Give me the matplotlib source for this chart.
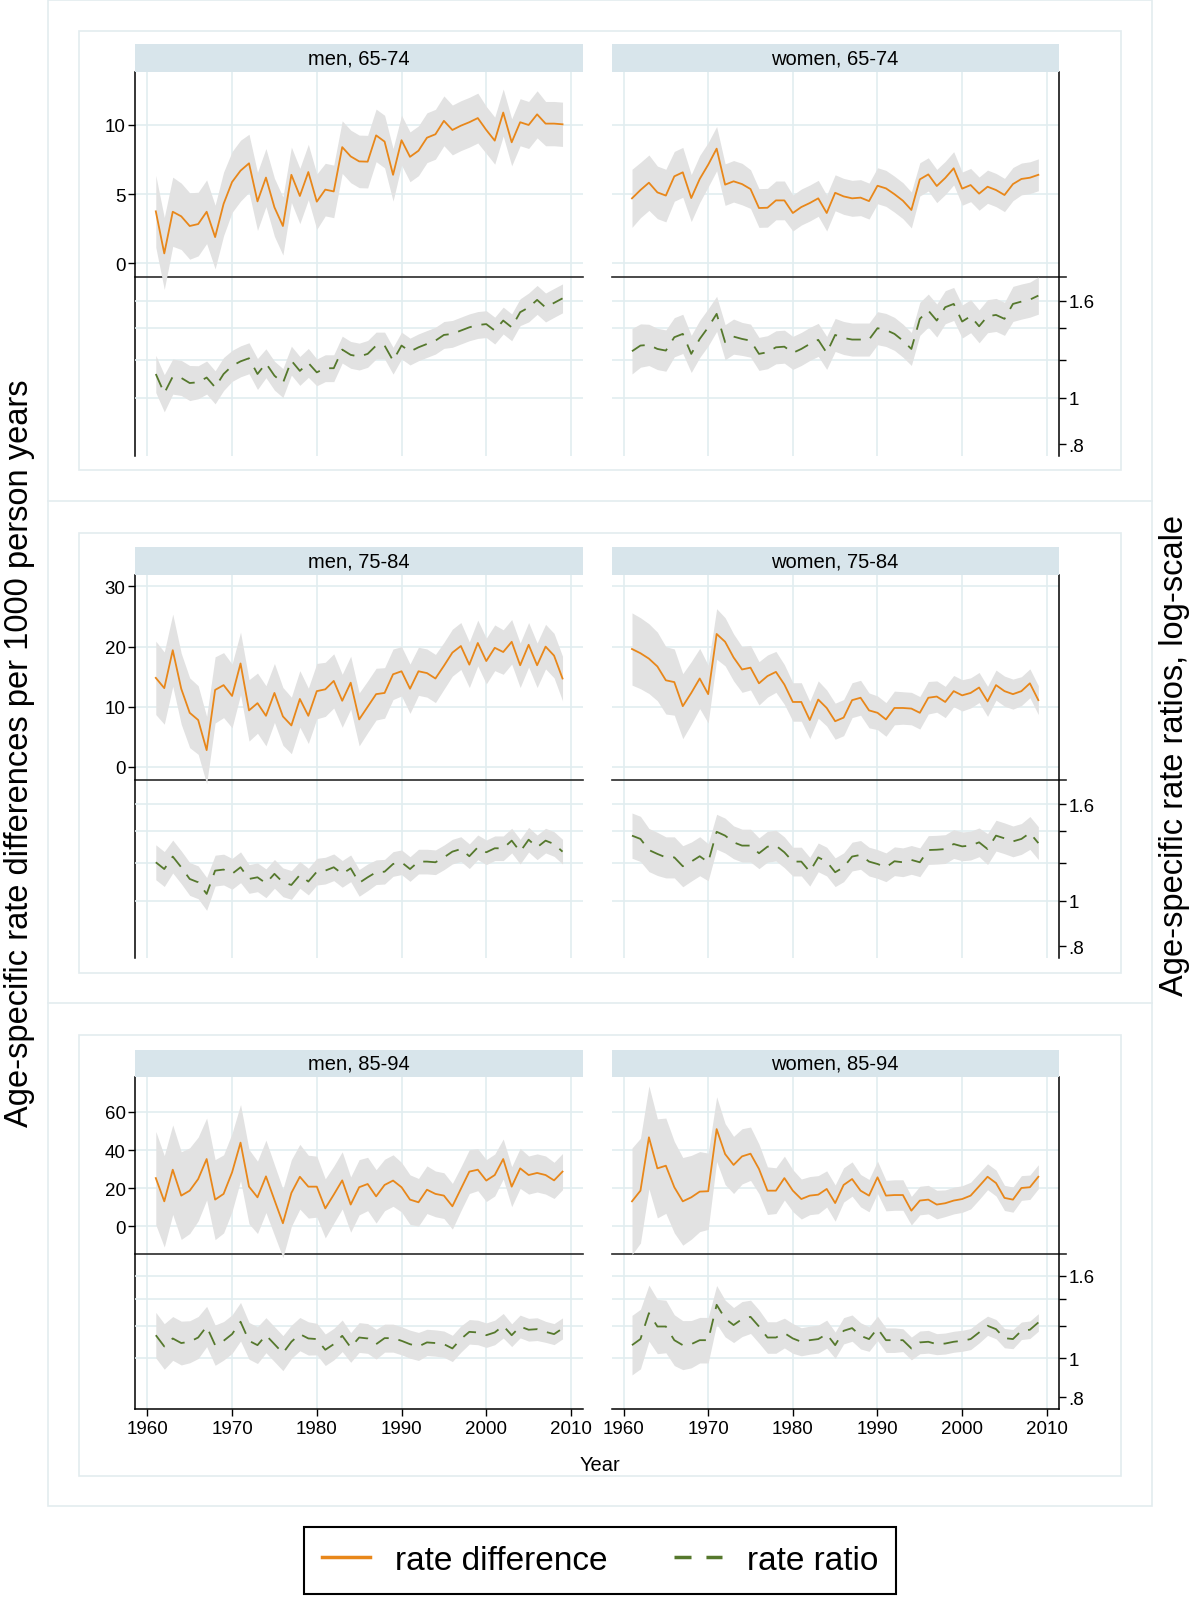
import numpy as np
import matplotlib
matplotlib.use("Agg")
import matplotlib.pyplot as plt
from matplotlib.patches import Rectangle
from matplotlib.lines import Line2D
from matplotlib.ticker import NullLocator, NullFormatter

plt.rcParams['font.family'] = ['Liberation Sans', 'DejaVu Sans']

years = list(range(1961, 2010))

# rate differences per 1000 person years and CI half-widths
men_6574_rd = [3.76, 0.72, 3.73, 3.40, 2.70, 2.84, 3.73, 1.90, 4.30, 5.88,
               6.70, 7.23, 4.48, 6.20, 4.05, 2.70, 6.40, 4.87, 6.60, 4.46,
               5.33, 5.20, 8.40, 7.73, 7.37, 7.35, 9.25, 8.80, 6.40, 8.90,
               7.70, 8.14, 9.08, 9.33, 10.30, 9.64, 9.95, 10.20, 10.50, 9.64,
               8.87, 10.90, 8.75, 10.20, 10.00, 10.77, 10.10, 10.10, 10.05]
men_6574_rd_ci = [2.6, 2.6, 2.5, 2.4, 2.4, 2.3, 2.3, 2.3, 2.3, 2.2,
                  2.2, 2.1, 2.1, 2.1, 2.1, 2.1, 2.0, 2.0, 2.0, 2.0,
                  1.9, 1.9, 1.9, 1.9, 1.9, 1.9, 1.9, 1.9, 1.9, 1.8,
                  1.8, 1.8, 1.8, 1.8, 1.8, 1.8, 1.8, 1.8, 1.8, 1.7,
                  1.7, 1.7, 1.7, 1.7, 1.7, 1.7, 1.6, 1.6, 1.6]
women_6574_rd = [4.70, 5.30, 5.83, 5.13, 4.90, 6.29, 6.58, 4.72, 6.10, 7.13,
                 8.29, 5.69, 5.93, 5.73, 5.37, 4.00, 4.02, 4.55, 4.55, 3.64,
                 4.07, 4.36, 4.70, 3.64, 5.10, 4.84, 4.70, 4.75, 4.50, 5.61,
                 5.42, 5.00, 4.53, 3.86, 6.07, 6.43, 5.59, 6.17, 6.87, 5.40,
                 5.66, 5.04, 5.54, 5.30, 4.94, 5.73, 6.10, 6.19, 6.40]
women_6574_rd_ci = [2.1, 2.0, 2.0, 1.9, 1.9, 1.8, 1.8, 1.7, 1.7, 1.6,
                    1.6, 1.5, 1.5, 1.5, 1.4, 1.4, 1.4, 1.4, 1.4, 1.3,
                    1.3, 1.3, 1.3, 1.3, 1.3, 1.3, 1.3, 1.3, 1.3, 1.3,
                    1.3, 1.3, 1.3, 1.3, 1.2, 1.2, 1.2, 1.2, 1.2, 1.2,
                    1.2, 1.2, 1.2, 1.2, 1.2, 1.2, 1.15, 1.15, 1.15]
men_7584_rd = [14.8, 13.1, 19.4, 13.0, 9.0, 7.8, 2.8, 12.8, 13.6, 11.8,
               17.2, 9.4, 10.6, 8.5, 12.3, 8.4, 6.9, 11.3, 8.5, 12.6,
               12.9, 14.3, 11.0, 14.0, 7.9, 10.0, 12.1, 12.3, 15.4, 15.9,
               13.0, 15.9, 15.6, 14.7, 16.8, 19.0, 20.1, 17.0, 20.6, 17.6,
               19.8, 19.1, 20.8, 16.9, 20.3, 16.9, 20.0, 18.5, 14.7]
men_7584_rd_ci = [6.1, 6.0, 6.0, 5.9, 5.8, 5.7, 5.6, 5.5, 5.4, 5.3,
                  5.2, 5.1, 5.0, 5.0, 4.9, 4.8, 4.7, 4.7, 4.6, 4.6,
                  4.5, 4.5, 4.4, 4.4, 4.4, 4.3, 4.3, 4.2, 4.2, 4.1,
                  4.1, 4.0, 4.0, 4.0, 3.9, 3.9, 3.9, 3.8, 3.8, 3.8,
                  3.8, 3.7, 3.7, 3.7, 3.7, 3.7, 3.7, 3.7, 3.7]
women_7584_rd = [19.6, 18.9, 18.0, 16.7, 14.4, 14.1, 10.1, 12.3, 14.7, 12.1,
                 22.1, 20.8, 18.2, 16.2, 16.5, 13.9, 15.1, 15.8, 13.7, 10.8,
                 10.8, 7.8, 11.2, 9.8, 7.6, 8.2, 11.1, 11.5, 9.4, 9.0,
                 7.9, 9.8, 9.8, 9.7, 9.0, 11.5, 11.7, 10.8, 12.6, 11.9,
                 12.3, 13.2, 10.9, 13.6, 12.6, 12.1, 12.6, 13.9, 11.1]
women_7584_rd_ci = [6.0, 5.9, 5.8, 5.7, 5.6, 5.5, 5.4, 5.2, 5.0, 4.8,
                    4.2, 4.0, 3.9, 3.8, 3.7, 3.6, 3.5, 3.4, 3.3, 3.2,
                    3.2, 3.1, 3.1, 3.0, 3.0, 3.0, 2.9, 2.9, 2.9, 2.8,
                    2.8, 2.8, 2.7, 2.7, 2.7, 2.7, 2.6, 2.6, 2.6, 2.6,
                    2.5, 2.5, 2.5, 2.5, 2.5, 2.5, 2.4, 2.4, 2.4]
men_8594_rd = [25.3, 13.1, 29.7, 16.1, 18.7, 24.8, 35.3, 14.0, 17.0, 28.3,
               43.9, 20.8, 15.2, 26.2, 13.8, 1.6, 17.5, 26.0, 20.8, 20.8,
               9.4, 16.6, 24.1, 11.4, 20.5, 22.2, 15.7, 21.7, 24.0, 20.5,
               14.0, 12.6, 19.2, 17.0, 16.1, 10.5, 19.6, 28.7, 29.7, 24.0,
               26.9, 35.3, 20.8, 30.4, 26.9, 28.0, 26.9, 24.1, 28.7]
men_8594_rd_ci = [24.5, 24, 23.5, 23, 22.5, 22, 21.5, 21, 20.5, 20.5,
                  20, 19.5, 19, 19, 18.5, 18, 17.5, 17, 16.5, 16,
                  15.5, 15, 15, 14.5, 14.5, 14, 14, 13.5, 13.5, 13,
                  13, 12.5, 12.5, 12, 12, 12, 11.5, 11.5, 11, 11,
                  11, 10.5, 10.5, 10.5, 10, 10, 10, 9.5, 9.5]
women_8594_rd = [13.1, 18.7, 46.7, 30.4, 31.8, 20.5, 13.1, 15.2, 18.2, 18.4,
                 51.0, 37.9, 32.2, 36.7, 38.1, 30.1, 18.7, 18.7, 25.3, 18.7,
                 14.3, 16.1, 16.6, 19.6, 12.2, 21.7, 24.8, 18.7, 16.1, 25.7,
                 16.1, 16.4, 16.4, 8.2, 13.5, 14.0, 11.4, 12.1, 13.5, 14.3,
                 16.1, 21.0, 26.0, 22.7, 14.9, 14.0, 20.1, 20.5, 26.0]
women_8594_rd_ci = [28, 27.5, 27, 26, 25, 24, 23, 22, 21, 20,
                    17, 16, 15, 14.5, 14, 13, 12.5, 12, 11.5, 11,
                    10.5, 10, 10, 9.5, 9.5, 9, 9, 8.5, 8.5, 8.5,
                    8, 8, 8, 7.5, 7.5, 7.5, 7.5, 7, 7, 7,
                    7, 7, 6.8, 6.8, 6.6, 6.6, 6.5, 6.4, 6.3]

# rate ratios and CI half-widths on the log scale
men_6574_rr = [1.123, 1.023, 1.109, 1.102, 1.075, 1.079, 1.104, 1.053, 1.123, 1.168,
               1.194, 1.212, 1.123, 1.183, 1.114, 1.075, 1.198, 1.140, 1.185, 1.132,
               1.155, 1.155, 1.264, 1.232, 1.222, 1.238, 1.289, 1.289, 1.198, 1.289,
               1.252, 1.278, 1.299, 1.320, 1.357, 1.364, 1.386, 1.408, 1.424, 1.430,
               1.386, 1.455, 1.408, 1.515, 1.550, 1.608, 1.550, 1.585, 1.620]
men_6574_rr_ci = [0.09, 0.09, 0.085, 0.085, 0.085, 0.08, 0.08, 0.08, 0.08, 0.075,
                  0.075, 0.075, 0.075, 0.07, 0.07, 0.07, 0.07, 0.07, 0.07, 0.065,
                  0.065, 0.065, 0.065, 0.065, 0.065, 0.065, 0.065, 0.065, 0.065, 0.065,
                  0.065, 0.065, 0.065, 0.065, 0.065, 0.065, 0.065, 0.065, 0.065, 0.065,
                  0.065, 0.065, 0.065, 0.065, 0.07, 0.07, 0.07, 0.07, 0.07]
women_6574_rr = [1.254, 1.289, 1.293, 1.268, 1.258, 1.342, 1.364, 1.238, 1.331, 1.408,
                 1.503, 1.310, 1.346, 1.331, 1.320, 1.238, 1.248, 1.278, 1.282, 1.244,
                 1.268, 1.299, 1.325, 1.244, 1.357, 1.337, 1.327, 1.327, 1.327, 1.402,
                 1.390, 1.364, 1.320, 1.268, 1.467, 1.527, 1.455, 1.552, 1.577, 1.448,
                 1.486, 1.415, 1.486, 1.495, 1.467, 1.577, 1.595, 1.610, 1.642]
women_6574_rr_ci = [0.11, 0.105, 0.1, 0.1, 0.1, 0.095, 0.095, 0.09, 0.09, 0.09,
                    0.085, 0.085, 0.085, 0.08, 0.08, 0.08, 0.08, 0.08, 0.08, 0.08,
                    0.08, 0.08, 0.08, 0.08, 0.08, 0.08, 0.08, 0.08, 0.08, 0.08,
                    0.08, 0.08, 0.08, 0.08, 0.08, 0.08, 0.08, 0.08, 0.08, 0.08,
                    0.08, 0.08, 0.08, 0.08, 0.08, 0.085, 0.085, 0.085, 0.09]
men_7584_rr = [1.205, 1.166, 1.239, 1.176, 1.111, 1.093, 1.033, 1.157, 1.163, 1.139,
               1.176, 1.111, 1.120, 1.088, 1.139, 1.093, 1.079, 1.133, 1.097, 1.151,
               1.157, 1.176, 1.139, 1.170, 1.090, 1.120, 1.148, 1.151, 1.195, 1.205,
               1.166, 1.209, 1.209, 1.205, 1.234, 1.269, 1.285, 1.241, 1.296, 1.265,
               1.290, 1.290, 1.339, 1.269, 1.345, 1.296, 1.339, 1.317, 1.269]
men_7584_rr_ci = [0.085, 0.085, 0.08, 0.08, 0.08, 0.08, 0.08, 0.075, 0.075, 0.075,
                  0.075, 0.07, 0.07, 0.07, 0.07, 0.07, 0.07, 0.065, 0.065, 0.065,
                  0.065, 0.065, 0.065, 0.065, 0.065, 0.065, 0.06, 0.06, 0.06, 0.06,
                  0.06, 0.06, 0.06, 0.06, 0.06, 0.06, 0.06, 0.06, 0.06, 0.06,
                  0.06, 0.06, 0.06, 0.06, 0.06, 0.06, 0.06, 0.06, 0.06]
women_7584_rr = [1.372, 1.350, 1.279, 1.255, 1.234, 1.234, 1.182, 1.209, 1.241, 1.205,
                 1.398, 1.372, 1.328, 1.307, 1.307, 1.259, 1.300, 1.307, 1.265, 1.209,
                 1.209, 1.151, 1.234, 1.209, 1.148, 1.176, 1.239, 1.249, 1.209, 1.195,
                 1.176, 1.211, 1.205, 1.219, 1.205, 1.279, 1.281, 1.285, 1.317, 1.302,
                 1.307, 1.328, 1.285, 1.372, 1.354, 1.334, 1.350, 1.390, 1.323]
women_7584_rr_ci = [0.11, 0.11, 0.105, 0.105, 0.1, 0.1, 0.1, 0.095, 0.095, 0.09,
                    0.085, 0.085, 0.08, 0.08, 0.08, 0.075, 0.075, 0.075, 0.075, 0.07,
                    0.07, 0.07, 0.07, 0.07, 0.07, 0.07, 0.07, 0.07, 0.07, 0.07,
                    0.07, 0.07, 0.07, 0.07, 0.07, 0.07, 0.07, 0.07, 0.07, 0.07,
                    0.07, 0.07, 0.075, 0.075, 0.075, 0.075, 0.075, 0.08, 0.08]
men_8594_rr = [1.140, 1.069, 1.119, 1.090, 1.098, 1.125, 1.198, 1.077, 1.104, 1.147,
               1.231, 1.104, 1.077, 1.140, 1.083, 1.029, 1.098, 1.147, 1.119, 1.115,
               1.049, 1.083, 1.136, 1.063, 1.125, 1.119, 1.083, 1.121, 1.121, 1.104,
               1.083, 1.069, 1.094, 1.090, 1.083, 1.057, 1.115, 1.162, 1.158, 1.140,
               1.158, 1.203, 1.140, 1.198, 1.176, 1.180, 1.162, 1.147, 1.185]
men_8594_rr_ci = [0.13, 0.13, 0.125, 0.125, 0.12, 0.12, 0.115, 0.115, 0.11, 0.11,
                  0.11, 0.105, 0.105, 0.1, 0.1, 0.1, 0.095, 0.095, 0.095, 0.09,
                  0.09, 0.09, 0.09, 0.085, 0.085, 0.085, 0.085, 0.08, 0.08, 0.08,
                  0.08, 0.08, 0.075, 0.075, 0.075, 0.075, 0.075, 0.07, 0.07, 0.07,
                  0.07, 0.07, 0.065, 0.065, 0.065, 0.065, 0.06, 0.06, 0.06]
women_8594_rr = [1.077, 1.115, 1.293, 1.198, 1.198, 1.108, 1.077, 1.083, 1.108, 1.108,
                 1.356, 1.254, 1.208, 1.250, 1.266, 1.198, 1.125, 1.125, 1.154, 1.119,
                 1.098, 1.108, 1.115, 1.147, 1.077, 1.169, 1.187, 1.136, 1.115, 1.185,
                 1.108, 1.108, 1.108, 1.057, 1.094, 1.098, 1.083, 1.087, 1.098, 1.104,
                 1.115, 1.158, 1.203, 1.180, 1.121, 1.115, 1.169, 1.176, 1.226]
women_8594_rr_ci = [0.17, 0.17, 0.16, 0.155, 0.15, 0.145, 0.14, 0.135, 0.13, 0.13,
                    0.11, 0.105, 0.1, 0.1, 0.095, 0.095, 0.09, 0.09, 0.085, 0.085,
                    0.08, 0.08, 0.08, 0.08, 0.075, 0.075, 0.075, 0.075, 0.07, 0.07,
                    0.07, 0.07, 0.065, 0.065, 0.065, 0.065, 0.06, 0.06, 0.06, 0.06,
                    0.06, 0.06, 0.055, 0.055, 0.055, 0.055, 0.05, 0.05, 0.05]

titles = [["men, 65-74", "women, 65-74"],
          ["men, 75-84", "women, 75-84"],
          ["men, 85-94", "women, 85-94"]]
diff_ticks = [[0, 5, 10], [0, 10, 20, 30], [0, 20, 40, 60]]
ratio_ticks = [0.8, 1, 1.2, 1.4, 1.6]
ratio_labels = [".8", "1", "", "", "1.6"]
decades = [1960, 1970, 1980, 1990, 2000, 2010]

panels = [
    [(men_6574_rd, men_6574_rd_ci, men_6574_rr, men_6574_rr_ci),
     (women_6574_rd, women_6574_rd_ci, women_6574_rr, women_6574_rr_ci)],
    [(men_7584_rd, men_7584_rd_ci, men_7584_rr, men_7584_rr_ci),
     (women_7584_rd, women_7584_rd_ci, women_7584_rr, women_7584_rr_ci)],
    [(men_8594_rd, men_8594_rd_ci, men_8594_rr, men_8594_rr_ci),
     (women_8594_rd, women_8594_rd_ci, women_8594_rr, women_8594_rr_ci)],
]

orange = "#E8871A"
green = "#55782C"
band = "#E2E2E2"
gridc = "#E2EDF0"
framec = "#E3ECEF"
stripc = "#D8E5EB"

W, H = 1200, 1615
fig = plt.figure(figsize=(12, 16.15), dpi=100)


def rect(x0, y0, x1, y1):
    # pixel box (y from top) -> figure fraction
    return [x0 / W, 1 - y1 / H, (x1 - x0) / W, (y1 - y0) / H]


def frame(x0, y0, x1, y1):
    r = rect(x0, y0, x1, y1)
    fig.add_artist(Rectangle((r[0], r[1]), r[2], r[3], transform=fig.transFigure,
                             fill=False, ec=framec, lw=1.2))


frame(48, 1, 1152, 1507)
for yl in [502, 1004]:
    fig.add_artist(Line2D([48 / W, 1152 / W], [1 - yl / H, 1 - yl / H],
                          transform=fig.transFigure, color=framec, lw=1.2))
frame(78.5, 31.5, 1121, 471)
frame(78.5, 534, 1121, 973.5)
frame(78.5, 1036, 1121, 1477)

# row layout: header top, plot top, plot bottom, linear limits, log limits
rows = [
    (44.5, 73.0, 456.7, (-13.9, 13.83), (0.756, 4.85)),
    (548.0, 576.0, 959.3, (-31.8, 31.9), (0.755, 4.88)),
    (1050.5, 1078.3, 1410.0, (-95.9, 78.2), (0.748, 4.97)),
]
cols = [(135.3, 582.7), (611.5, 1058.5)]

for r, (htop, ptop, pbot, lin, logl) in enumerate(rows):
    for c, (x0, x1) in enumerate(cols):
        rd, rd_ci, rr, rr_ci = [np.array(v, dtype=float) for v in panels[r][c]]

        ax = fig.add_axes(rect(x0, ptop, x1, pbot))
        ax2 = ax.twinx()
        ax.set_xlim(1958.58, 2011.38)
        ax.set_ylim(*lin)
        ax2.set_yscale("log")
        ax2.set_ylim(*logl)

        # grid
        for v in diff_ticks[r]:
            ax.axhline(v, color=gridc, lw=1.2, zorder=0)
        for d in decades:
            ax.axvline(d, color=gridc, lw=1.2, zorder=0)
        for v in ratio_ticks[1:]:
            ax2.axhline(v, color=gridc, lw=1.2, zorder=0)

        # separator between the two scales
        ax.plot([0, 1.017 if c == 1 else 1.0], [0.466, 0.466], transform=ax.transAxes,
                color="#2a2a2a", lw=1.2, clip_on=False, zorder=0.5)

        ax.fill_between(years, rd - rd_ci, rd + rd_ci, color=band, lw=0, zorder=1)
        ax.plot(years, rd, color=orange, lw=1.3, zorder=2)
        ax2.fill_between(years, rr * np.exp(-rr_ci), rr * np.exp(rr_ci),
                         color=band, lw=0, zorder=1)
        ax2.plot(years, rr, color=green, lw=1.3, ls=(0, (8, 5.5)), zorder=2)

        for s in ["top", "right", "left", "bottom"]:
            ax.spines[s].set_visible(False)
            ax2.spines[s].set_visible(False)
        ax2.yaxis.set_minor_locator(NullLocator())
        ax2.yaxis.set_minor_formatter(NullFormatter())

        if c == 0:
            ax.spines["left"].set_visible(True)
            ax.spines["left"].set_linewidth(1.1)
            ax.set_yticks(diff_ticks[r])
            ax.tick_params(axis="y", length=5, width=1.0, labelsize=13.5, pad=2)
            ax2.set_yticks([])
            ax2.tick_params(axis="y", right=False, labelright=False)
        else:
            ax.set_yticks([])
            ax.tick_params(axis="y", left=False, labelleft=False)
            ax2.spines["right"].set_visible(True)
            ax2.spines["right"].set_linewidth(1.1)
            ax2.set_yticks(ratio_ticks)
            ax2.set_yticklabels(ratio_labels)
            ax2.tick_params(axis="y", length=5, width=1.0, labelsize=13.5, pad=2)

        if r == 2:
            ax.spines["bottom"].set_visible(True)
            ax.spines["bottom"].set_linewidth(1.1)
            ax.set_xticks(decades)
            ax.tick_params(axis="x", length=5, width=1.0, labelsize=13.5, pad=3)
        else:
            ax.set_xticks([])

        hax = fig.add_axes(rect(x0, htop, x1, ptop))
        hax.set_facecolor(stripc)
        for s in hax.spines.values():
            s.set_visible(False)
        hax.set_xticks([])
        hax.set_yticks([])
        hax.text(0.5, 0.5, titles[r][c], ha="center", va="center", fontsize=14.5,
                 transform=hax.transAxes)

fig.text(20 / W, 1 - 753 / H, "Age-specific rate differences per 1000 person years",
         rotation=90, ha="center", va="center", fontsize=23.5)
fig.text(1174 / W, 1 - 755 / H, "Age-specific rate ratios, log-scale",
         rotation=90, ha="center", va="center", fontsize=23.5)
fig.text(600 / W, 1 - 1466 / H, "Year", ha="center", va="center", fontsize=14.5)

handles = [Line2D([], [], color=orange, lw=2.5),
           Line2D([], [], color=green, lw=2.5, ls=(0, (4.9, 4.3)))]
leg = fig.legend(handles, ["rate difference", "rate ratio"], loc="center",
                 bbox_to_anchor=(600 / W, 1 - 1561.5 / H), ncol=2, fontsize=24,
                 frameon=True, fancybox=False, edgecolor="black", framealpha=1,
                 handlelength=1.43, handletextpad=0.75, columnspacing=2.0,
                 borderpad=0.55)
leg.get_frame().set_linewidth(1.5)

fig.savefig("out.png", dpi=100, facecolor="white")
